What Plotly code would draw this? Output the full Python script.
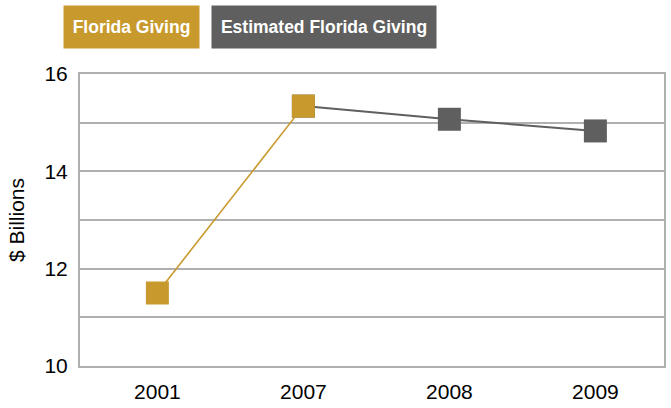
import plotly.graph_objects as go

GOLD = '#C8992C'
GRAY = '#5F5F5F'
GRID = '#B0B0B0'

years = ['2001', '2007', '2008', '2009']
actual_years = ['2001', '2007']
actual_values = [11.5, 15.34]
estimated_years = ['2007', '2008', '2009']
estimated_values = [15.34, 15.07, 14.83]
y_ticks = [10, 12, 14, 16]

fig = go.Figure()

fig.add_trace(go.Scatter(x=estimated_years,
                         y=estimated_values,
                         mode='lines+markers',
                         line=dict(color=GRAY, width=2),
                         marker=dict(symbol='square', size=23, color=GRAY),
                         name='Estimated Florida Giving'))

fig.add_trace(go.Scatter(x=actual_years,
                         y=actual_values,
                         mode='lines+markers',
                         line=dict(color=GOLD, width=1.6),
                         marker=dict(symbol='square', size=23, color=GOLD),
                         name='Florida Giving'))

# legend boxes drawn as annotations
legend_font = dict(family='Liberation Sans, Arial, sans-serif', color='white', size=17.5)
fig.add_annotation(text='<b>Florida Giving</b>', xref='paper', yref='paper',
                   x=-0.029, y=1.236, xanchor='left', yanchor='top',
                   showarrow=False, width=135, height=42, borderpad=0,
                   bgcolor=GOLD, font=legend_font)
fig.add_annotation(text='<b>Estimated Florida Giving</b>', xref='paper', yref='paper',
                   x=0.2235, y=1.236, xanchor='left', yanchor='top',
                   showarrow=False, width=224, height=42, borderpad=0,
                   bgcolor=GRAY, font=legend_font)

fig.update_layout(width=671, height=408,
                  margin=dict(l=80, r=5, t=74, b=42),
                  paper_bgcolor='white',
                  plot_bgcolor='white',
                  showlegend=False,
                  font=dict(family='Liberation Sans, Arial, sans-serif', size=21, color='black'))

fig.update_xaxes(type='category', categoryorder='array', categoryarray=years,
                 range=[-0.53, 3.47], showgrid=False,
                 showline=True, linecolor=GRID, linewidth=2, mirror=True,
                 ticks='', ticklabelstandoff=6)

fig.update_yaxes(range=[10, 16], tickvals=y_ticks,
                 showgrid=True, gridcolor=GRID, gridwidth=2,
                 minor=dict(dtick=1, showgrid=True, gridcolor=GRID, gridwidth=2),
                 showline=True, linecolor=GRID, linewidth=2, mirror=True,
                 zeroline=False, ticks='', ticklabelstandoff=6,
                 title=dict(text='$ Billions', standoff=14, font=dict(size=21)))

fig.write_html("out.html", config={'displayModeBar': False},
               post_script="document.body.style.margin='0';")
